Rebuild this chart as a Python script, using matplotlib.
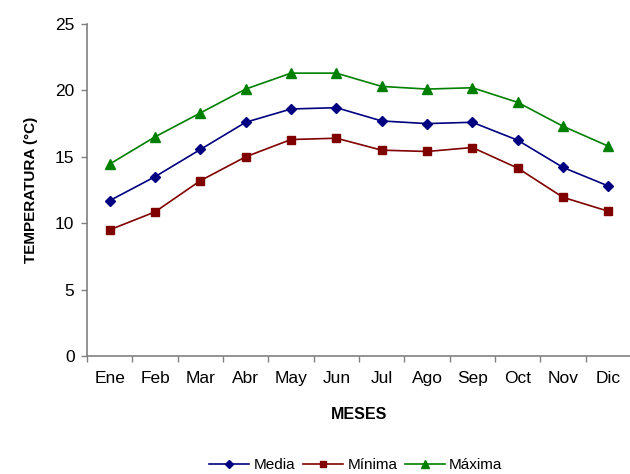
import matplotlib
matplotlib.use("Agg")
import matplotlib.pyplot as plt
from matplotlib.lines import Line2D

plt.rcParams["font.family"] = ["Liberation Sans", "DejaVu Sans"]

meses = ["Ene", "Feb", "Mar", "Abr", "May", "Jun", "Jul", "Ago", "Sep", "Oct", "Nov", "Dic"]
media = [11.7, 13.5, 15.55, 17.6, 18.6, 18.7, 17.7, 17.5, 17.6, 16.25, 14.2, 12.8]
minima = [9.5, 10.85, 13.2, 15.0, 16.3, 16.4, 15.5, 15.4, 15.7, 14.15, 11.95, 10.9]
maxima = [14.45, 16.5, 18.3, 20.1, 21.3, 21.3, 20.3, 20.1, 20.2, 19.1, 17.3, 15.8]

gris = "#808080"

fig = plt.figure(figsize=(6.3, 4.74), dpi=100)
ax = fig.add_axes([87 / 630, 1 - 356 / 474, 544 / 630, 332 / 474])

x = list(range(len(meses)))
ax.plot(x, media, color="#000080", marker="D", markersize=5.5, lw=1.2, label="Media")
ax.plot(x, minima, color="#800000", marker="s", markersize=6, lw=1.2, label="Mínima")
ax.plot(x, maxima, color="#008000", marker="^", markersize=7, lw=1.2, label="Máxima")

ax.set_xlim(-0.5, 11.5)
ax.set_ylim(0, 25)
ax.set_yticks(range(0, 26, 5))
ax.set_xticks(x)
ax.set_xticklabels(meses)
# marcas del eje x entre categorias, como en Excel
ax.set_xticks([i + 0.5 for i in range(-1, 11)], minor=True)
ax.tick_params(axis="x", which="major", length=0, pad=11, labelsize=12.5)
ax.tick_params(axis="x", which="minor", length=4, color=gris, width=1)
ax.tick_params(axis="y", length=4, color=gris, width=1, labelsize=12.5, pad=5)

for lado in ("top", "right"):
    ax.spines[lado].set_visible(False)
for lado in ("left", "bottom"):
    ax.spines[lado].set_color(gris)
    ax.spines[lado].set_linewidth(1.2)

ax.set_xlabel("MESES", fontsize=11.5, fontweight="bold", labelpad=15)
ax.set_ylabel("TEMPERATURA (°C)", fontsize=11, fontweight="bold", labelpad=12)

handles = [
    Line2D([], [], color="#000080", marker="D", markersize=4.5, lw=1.2),
    Line2D([], [], color="#800000", marker="s", markersize=5, lw=1.2),
    Line2D([], [], color="#008000", marker="^", markersize=6, lw=1.2),
]
fig.legend(handles, ["Media", "Mínima", "Máxima"], loc="center", bbox_to_anchor=(356 / 630, 1 - 465 / 474),
           ncol=3, frameon=False, fontsize=11, handlelength=2.6, columnspacing=0.5, handletextpad=0.3)

fig.savefig("out.png", dpi=100)
